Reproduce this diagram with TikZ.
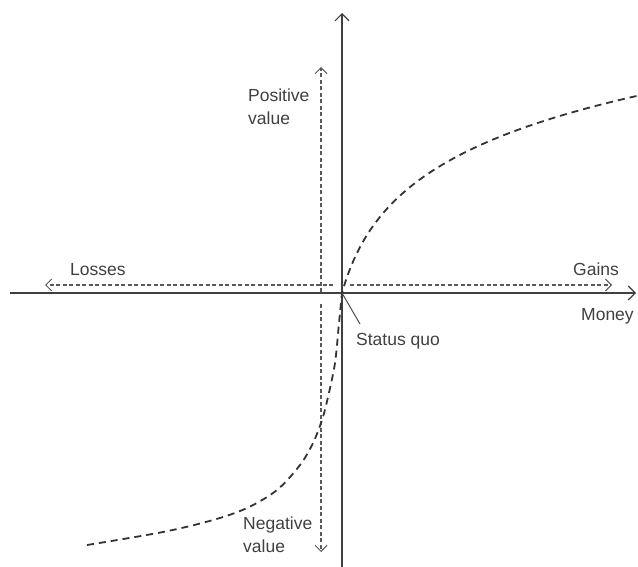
\documentclass[tikz,border=0pt]{standalone}
\usepackage{fontspec}
\setmainfont{Liberation Sans}
\usetikzlibrary{arrows.meta}
\begin{document}
\begin{tikzpicture}[x=1pt,y=-1pt,
  axis/.style={line width=1.3pt,draw=black!75,-{Straight Barb[length=7pt,width=14pt,line width=1.1pt]}},
  guide/.style={line width=1.1pt,draw=black!65,dash pattern=on 4pt off 2.5pt,-{Straight Barb[length=6pt,width=12pt,line width=1pt]}},
  curve/.style={line width=1.8pt,draw=black!80,dash pattern=on 7pt off 5pt},
  lbl/.style={font=\fontsize{17.5}{23}\selectfont,text=black!75,inner sep=0pt,align=left}]
\useasboundingbox (0,0) rectangle (638,567);
% axes
\coordinate (o) at (342,293);
\coordinate (ybot) at (342,567);
\coordinate (ytop) at (342,13);
\coordinate (xleft) at (10,293);
\coordinate (xright) at (636,293);
\draw[axis] (ybot) -- (ytop);
\draw[axis] (xleft) -- (xright);
% guide arrows
\coordinate (gl0) at (333,285);
\coordinate (gl1) at (45,285);
\coordinate (gr0) at (350,285);
\coordinate (gr1) at (612,285);
\coordinate (gvu) at (321,292);
\coordinate (gvd) at (321,304);
\coordinate (gv1) at (321,67);
\coordinate (gv2) at (321,552);
\draw[guide] (gl0) -- (gl1);
\draw[guide] (gr0) -- (gr1);
\draw[guide] (gvu) -- (gv1);
\draw[guide] (gvd) -- (gv2);
% value function: convex for losses, logarithmic for gains
\draw[curve] plot[smooth,tension=0.55] coordinates {(87,545) (163,532) (213,520)
    (247,508) (277,490) (300,465) (313,443) (322,420) (328,397) (335,363)
    (339,323) (342,293)}
  -- plot[domain=0:296,samples=120] ({342+\x},{293-71.5*ln(1+\x/20)});
% labels
\node[lbl,anchor=base west] (pos) at (248,125) {Positive\\value};
\node[lbl,anchor=base west] (neg) at (243,552) {Negative\\value};
\node[lbl,anchor=base west] (loss) at (70,276) {Losses};
\node[lbl,anchor=base west] (gain) at (573,276) {Gains};
\node[lbl,anchor=base west] (money) at (581,320) {Money};
\node[lbl,anchor=base west] (sq) at (356,345) {Status quo};
\coordinate (sqlead) at (360,324);
\draw[line width=1pt,draw=black!70] (o) -- (sqlead);
\end{tikzpicture}
\end{document}
